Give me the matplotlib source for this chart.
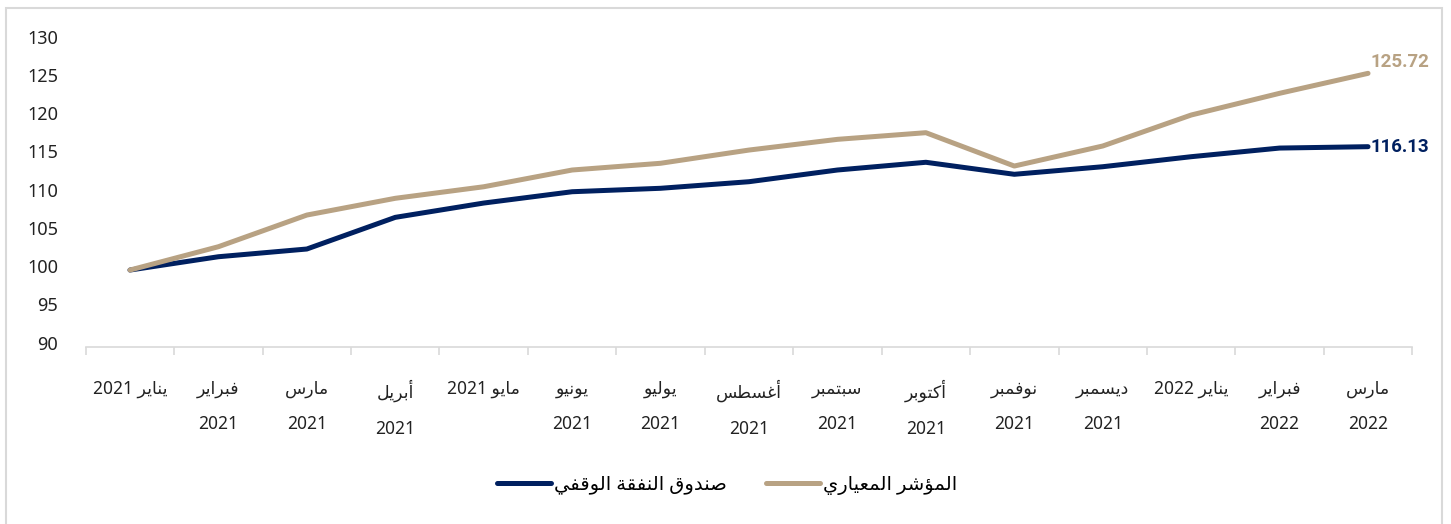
import matplotlib
matplotlib.use("Agg")
import matplotlib.pyplot as plt
import matplotlib.transforms as mtransforms
from matplotlib.patches import Rectangle

plt.rcParams['font.family'] = ['Noto Sans', 'DejaVu Sans']

# Data
months = ['يناير 2021', 'فبراير\n2021', 'مارس\n2021', 'أبريل\n2021', 'مايو 2021',
          'يونيو\n2021', 'يوليو\n2021', 'أغسطس\n2021', 'سبتمبر\n2021', 'أكتوبر\n2021',
          'نوفمبر\n2021', 'ديسمبر\n2021', 'يناير 2022', 'فبراير\n2022', 'مارس\n2022']
fund = [100.0, 101.74, 102.75, 106.89, 108.76, 110.24, 110.69, 111.55,
        113.08, 114.09, 112.52, 113.51, 114.82, 115.95, 116.13]
benchmark = [100.0, 103.05, 107.19, 109.38, 110.89, 113.08, 113.96, 115.69,
             117.09, 117.96, 113.6, 116.22, 120.27, 123.11, 125.72]
fund_name = 'صندوق النفقة الوقفي'
bench_name = 'المؤشر المعياري'
yticks = [90, 95, 100, 105, 110, 115, 120, 125, 130]

NAVY = '#002060'
TAN = '#b8a283'

# Minimal Arabic shaping (presentation forms) + RTL ordering, since matplotlib has no bidi
# (isolated, final, initial, medial); right-joining letters have no initial/medial
FORMS = {
    'ا': (0xFE8D, 0xFE8E, None, None), 'أ': (0xFE83, 0xFE84, None, None),
    'ؤ': (0xFE85, 0xFE86, None, None), 'ة': (0xFE93, 0xFE94, None, None),
    'د': (0xFEA9, 0xFEAA, None, None), 'ر': (0xFEAD, 0xFEAE, None, None),
    'و': (0xFEED, 0xFEEE, None, None),
    'ب': (0xFE8F, 0xFE90, 0xFE91, 0xFE92), 'ت': (0xFE95, 0xFE96, 0xFE97, 0xFE98),
    'س': (0xFEB1, 0xFEB2, 0xFEB3, 0xFEB4), 'ش': (0xFEB5, 0xFEB6, 0xFEB7, 0xFEB8),
    'ص': (0xFEB9, 0xFEBA, 0xFEBB, 0xFEBC), 'ط': (0xFEC1, 0xFEC2, 0xFEC3, 0xFEC4),
    'ع': (0xFEC9, 0xFECA, 0xFECB, 0xFECC), 'غ': (0xFECD, 0xFECE, 0xFECF, 0xFED0),
    'ف': (0xFED1, 0xFED2, 0xFED3, 0xFED4), 'ق': (0xFED5, 0xFED6, 0xFED7, 0xFED8),
    'ك': (0xFED9, 0xFEDA, 0xFEDB, 0xFEDC), 'ل': (0xFEDD, 0xFEDE, 0xFEDF, 0xFEE0),
    'م': (0xFEE1, 0xFEE2, 0xFEE3, 0xFEE4), 'ن': (0xFEE5, 0xFEE6, 0xFEE7, 0xFEE8),
    'ي': (0xFEF1, 0xFEF2, 0xFEF3, 0xFEF4),
}


def shape_word(w):
    out = []
    for i, c in enumerate(w):
        if c not in FORMS:
            out.append(c)
            continue
        prev = w[i - 1] if i > 0 else None
        nxt = w[i + 1] if i + 1 < len(w) else None
        f = FORMS[c]
        jp = prev in FORMS and FORMS[prev][2] is not None
        jn = f[2] is not None and nxt in FORMS
        if jp and jn:
            code = f[3]
        elif jp:
            code = f[1]
        elif jn:
            code = f[2]
        else:
            code = f[0]
        out.append(chr(code))
    return ''.join(out)


def ar(text):
    lines = []
    for line in text.split('\n'):
        words = []
        for w in reversed(line.split(' ')):
            if any(c in FORMS for c in w):
                words.append(shape_word(w)[::-1])
            else:
                words.append(w)
        lines.append(' '.join(words))
    return '\n'.join(lines)


fig = plt.figure(figsize=(14.51, 5.24), dpi=100)
ax = fig.add_axes([0.0591, 0.3387, 0.9733 - 0.0591, 0.9225 - 0.3387])

x = list(range(len(months)))
l1, = ax.plot(x, fund, color=NAVY, lw=3.6, solid_capstyle='round', solid_joinstyle='round')
l2, = ax.plot(x, benchmark, color=TAN, lw=3.6, solid_capstyle='round', solid_joinstyle='round')

ax.annotate(f'{fund[-1]:.2f}', xy=(x[-1], fund[-1]), xytext=(2, 0), textcoords='offset points',
            ha='left', va='center', fontsize=13.5, fontweight='bold', color=NAVY, family='Roboto')
ax.annotate(f'{benchmark[-1]:.2f}', xy=(x[-1], benchmark[-1]), xytext=(2, 8), textcoords='offset points',
            ha='left', va='center', fontsize=13.5, fontweight='bold', color=TAN, family='Roboto')

ax.set_xlim(-0.5, len(months) - 0.5)
ax.set_ylim(90, 130)
ax.set_yticks(yticks)
ax.tick_params(axis='y', length=0, pad=20, labelsize=13, labelcolor='#222222')
shift = mtransforms.ScaledTranslation(0, 4 / 100, fig.dpi_scale_trans)
for lab in ax.get_yticklabels():
    lab.set_transform(lab.get_transform() + shift)

ax.set_xticks(x)
ax.set_xticklabels([ar(m) for m in months], fontsize=12.5, linespacing=2.25, color='#222222')
ax.set_xticks([i - 0.5 for i in range(len(months) + 1)], minor=True)
ax.tick_params(axis='x', which='major', length=0, pad=24)
ax.tick_params(axis='x', which='minor', length=6, width=1.2, color='#d9d9d9', direction='out')

for s in ['top', 'right', 'left']:
    ax.spines[s].set_visible(False)
ax.spines['bottom'].set_color('#d9d9d9')
ax.spines['bottom'].set_linewidth(1.2)

fig.legend([l1, l2], [ar(fund_name), ar(bench_name)], loc='center', bbox_to_anchor=(0.501, 0.075),
           ncol=2, frameon=False, fontsize=14, handlelength=2.8, handletextpad=0.15, columnspacing=2.0)

fig.patches.append(Rectangle((6 / 1451, -0.02), (1442 - 6) / 1451, 1.02 - 8 / 524,
                             transform=fig.transFigure, fill=False, edgecolor='#d9d9d9', lw=1.5))

fig.savefig('out.png', dpi=100)
